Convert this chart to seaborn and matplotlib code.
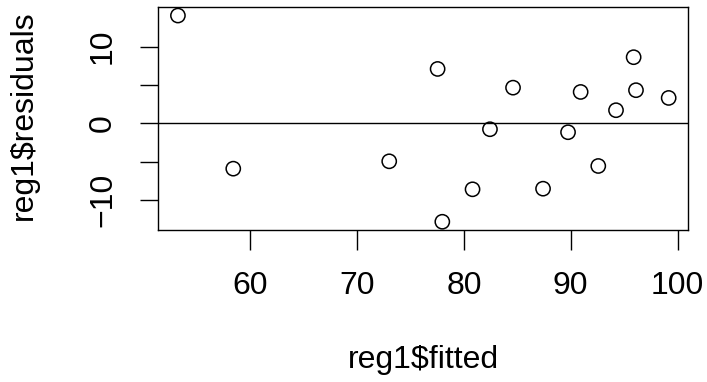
import pandas as pd
import numpy as np
import matplotlib
matplotlib.use("Agg")
import matplotlib.pyplot as plt
import seaborn as sns

# values
fitted = [53.23, 58.41, 73.01, 77.54, 77.98, 80.81, 82.44, 84.60,
          87.41, 89.75, 90.93, 92.58, 94.24, 95.89, 96.11, 99.17]
residuals = [14.04, -5.92, -4.96, 7.08, -12.84, -8.61, -0.78, 4.64,
             -8.53, -1.17, 4.08, -5.57, 1.70, 8.61, 4.31, 3.30]
x_ticks = [60, 70, 80, 90, 100]
y_ticks = [-10, -5, 0, 5, 10]
y_tick_labels = ["\u221210", "", "0", "", "10"]

df = pd.DataFrame({"fitted": fitted, "residuals": residuals})

sns.set_style("white")
plt.rcParams["font.family"] = ["Liberation Sans", "DejaVu Sans"]

fig = plt.figure(figsize=(7.07, 3.82), dpi=100)
W, H = 707, 382
left, right, top, bottom = 158.3, 688.3, 7.3, 230.0
ax = fig.add_axes([left / W, 1 - bottom / H, (right - left) / W, (bottom - top) / H])

sns.scatterplot(data=df, x="fitted", y="residuals", ax=ax, s=105,
                facecolor="none", edgecolor="black", linewidth=1.1)
ax.axhline(0, color="black", linewidth=1.0)

# R style 4% padding
xr = max(fitted) - min(fitted)
yr = max(residuals) - min(residuals)
ax.set_xlim(min(fitted) - 0.04 * xr, max(fitted) + 0.04 * xr)
ax.set_ylim(min(residuals) - 0.04 * yr, max(residuals) + 0.04 * yr)

for sp in ax.spines.values():
    sp.set_visible(True)
    sp.set_color("black")
    sp.set_linewidth(1.0)

fs = 23
ax.set_xticks(x_ticks)
ax.set_yticks(y_ticks)
ax.set_yticklabels(y_tick_labels, rotation=90, va="center")
ax.tick_params(axis="both", direction="out", length=14.5, width=1.0,
               color="black", labelsize=fs, labelcolor="black")
ax.tick_params(axis="x", pad=15)
ax.tick_params(axis="y", pad=16, length=13)
ax.tick_params(bottom=True, left=True)

ax.set_xlabel("reg1$fitted", fontsize=fs, color="black")
ax.set_ylabel("reg1$residuals", fontsize=fs, color="black")
ax.xaxis.set_label_coords(0.5, -0.515)
ax.yaxis.set_label_coords(-0.225, 0.516)

fig.savefig("out.png", dpi=100)
